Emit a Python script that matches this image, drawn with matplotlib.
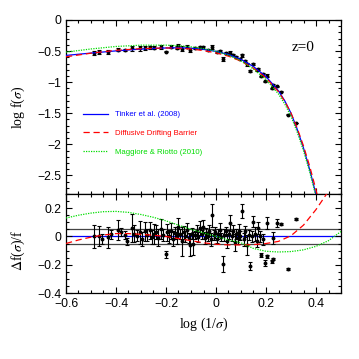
import matplotlib
matplotlib.use("Agg")
import matplotlib.pyplot as plt
from matplotlib.ticker import MultipleLocator, FixedLocator

plt.rcParams['font.family'] = ['Liberation Sans', 'DejaVu Sans']
plt.rcParams['mathtext.fontset'] = 'stix'

# ---- model curves, top panel (log f) ----
curve_x = [-0.6, -0.5, -0.4, -0.3, -0.2, -0.15, -0.1, -0.05, 0.0, 0.05, 0.1, 0.15,
           0.2, 0.25, 0.275, 0.3, 0.325, 0.35, 0.375, 0.4, 0.425]
tinker_logf = [-0.570, -0.532, -0.497, -0.468, -0.450, -0.447, -0.453, -0.472, -0.505,
               -0.555, -0.635, -0.750, -0.910, -1.140, -1.300, -1.500, -1.760, -2.060,
               -2.410, -2.810, -3.250]
ddb_logf = [-0.592, -0.534, -0.488, -0.461, -0.450, -0.454, -0.466, -0.492, -0.529,
            -0.582, -0.662, -0.776, -0.932, -1.155, -1.309, -1.498, -1.743, -2.027,
            -2.357, -2.734, -3.150]
mr_logf = [-0.517, -0.466, -0.426, -0.405, -0.405, -0.414, -0.432, -0.461, -0.505,
           -0.566, -0.655, -0.789, -0.958, -1.191, -1.351, -1.549, -1.807, -2.103,
           -2.448, -2.841, -3.270]

# ---- residual curves, bottom panel ----
res_x = [-0.6, -0.55, -0.5, -0.45, -0.4, -0.35, -0.3, -0.25, -0.2, -0.15, -0.1, -0.05,
         0.0, 0.05, 0.1, 0.15, 0.2, 0.25, 0.3, 0.35, 0.4, 0.45, 0.5]
ddb_res = [-0.050, -0.025, -0.005, 0.010, 0.020, 0.020, 0.015, 0.008, 0.000, -0.015,
           -0.030, -0.045, -0.055, -0.060, -0.060, -0.058, -0.050, -0.035, 0.005,
           0.080, 0.190, 0.320, 0.470]
mr_res = [0.130, 0.150, 0.165, 0.175, 0.177, 0.170, 0.155, 0.135, 0.110, 0.080, 0.050,
          0.025, 0.000, -0.025, -0.045, -0.085, -0.105, -0.110, -0.107, -0.095, -0.070,
          -0.030, 0.035]

# ---- simulation data, top panel ----
top_x = [-0.49, -0.468, -0.433, -0.392, -0.365, -0.338, -0.305, -0.285, -0.265, -0.25,
         -0.222, -0.2, -0.18, -0.158, -0.151, -0.137, -0.116, -0.104, -0.085, -0.064,
         -0.052, -0.034, -0.017, 0.002, 0.014, 0.027, 0.038, 0.05, 0.056, 0.068, 0.08,
         0.096, 0.103, 0.116, 0.123, 0.136, 0.149, 0.162, 0.169, 0.179, 0.187, 0.196,
         0.205, 0.223, 0.229, 0.243, 0.258, 0.289, 0.32]
top_y = [-0.530, -0.519, -0.511, -0.476, -0.482, -0.454, -0.457, -0.450, -0.441, -0.448,
         -0.433, -0.508, -0.432, -0.446, -0.418, -0.463, -0.432, -0.479, -0.455, -0.442,
         -0.442, -0.483, -0.433, -0.514, -0.497, -0.627, -0.528, -0.549, -0.526, -0.567,
         -0.594, -0.627, -0.570, -0.657, -0.715, -0.820, -0.705, -0.801, -0.785, -0.903,
         -0.877, -0.988, -0.894, -1.101, -1.048, -1.069, -1.154, -1.525, -1.657]
top_err = [0.035, 0.030, 0.032, 0.030, 0.012, 0.040, 0.034, 0.028, 0.026, 0.022,
           0.030, 0.012, 0.024, 0.026, 0.026, 0.040, 0.022, 0.034, 0.014, 0.022,
           0.020, 0.014, 0.034, 0.014, 0.022, 0.026, 0.016, 0.014, 0.026, 0.018,
           0.016, 0.014, 0.022, 0.018, 0.030, 0.014, 0.018, 0.020, 0.018, 0.008,
           0.018, 0.010, 0.018, 0.006, 0.018, 0.014, 0.006, 0.006, 0.006]

# ---- simulation data, bottom panel (residuals) ----
bot_x = [-0.490, -0.468, -0.455, -0.433, -0.420, -0.392, -0.380, -0.365, -0.357, -0.338,
         -0.330, -0.318, -0.305, -0.295, -0.285, -0.275, -0.265, -0.258, -0.250, -0.240,
         -0.232, -0.222, -0.214, -0.200, -0.196, -0.188, -0.180, -0.172, -0.165, -0.158,
         -0.151, -0.144, -0.137, -0.130, -0.123, -0.116, -0.110, -0.104, -0.098, -0.091,
         -0.085, -0.078, -0.071, -0.064, -0.058, -0.052, -0.046, -0.040, -0.034, -0.028,
         -0.022, -0.017, -0.010, -0.004, 0.002, 0.008, 0.014, 0.020, 0.027, 0.032,
         0.038, 0.044, 0.050, 0.056, 0.062, 0.068, 0.074, 0.080, 0.086, 0.090,
         0.096, 0.103, 0.110, 0.116, 0.123, 0.130, 0.136, 0.142, 0.149, 0.155,
         0.162, 0.169, 0.175, 0.179, 0.187, 0.196, 0.203, 0.205, 0.223, 0.227,
         0.229, 0.243, 0.258, 0.289, 0.320]
bot_y = [0.000, 0.005, -0.015, -0.005, 0.015, 0.045, 0.030, 0.010, -0.035, 0.060,
         0.020, 0.005, 0.030, -0.020, 0.035, 0.010, 0.045, -0.005, 0.020, 0.030,
         -0.010, 0.050, 0.010, -0.125, 0.030, 0.000, 0.040, -0.015, 0.025, 0.005,
         0.070, 0.015, -0.035, 0.030, 0.000, 0.045, -0.010, -0.060, 0.020, -0.050,
         0.010, 0.035, -0.005, 0.060, 0.015, 0.070, -0.010, 0.025, 0.000, 0.040,
         -0.020, 0.150, 0.010, 0.030, -0.015, 0.020, 0.045, -0.005, -0.195, 0.010,
         0.035, -0.030, 0.015, 0.095, 0.000, 0.040, -0.040, 0.020, -0.010, 0.035,
         0.005, 0.180, -0.020, 0.035, -0.060, 0.010, -0.210, 0.000, 0.105, 0.020,
         -0.030, 0.060, 0.000, -0.130, -0.020, -0.190, -0.140, 0.095, -0.177, -0.160,
         -0.010, 0.094, 0.088, -0.230, 0.125]
bot_err = [0.080, 0.070, 0.035, 0.075, 0.030, 0.070, 0.030, 0.025, 0.025, 0.100,
           0.060, 0.040, 0.080, 0.050, 0.065, 0.045, 0.060, 0.050, 0.070, 0.050,
           0.060, 0.070, 0.040, 0.025, 0.060, 0.045, 0.055, 0.050, 0.040, 0.060,
           0.060, 0.035, 0.100, 0.045, 0.040, 0.050, 0.035, 0.080, 0.040, 0.080,
           0.030, 0.045, 0.035, 0.050, 0.030, 0.045, 0.040, 0.035, 0.030, 0.040,
           0.045, 0.080, 0.035, 0.040, 0.030, 0.035, 0.050, 0.030, 0.060, 0.040,
           0.035, 0.050, 0.030, 0.060, 0.035, 0.040, 0.060, 0.035, 0.040, 0.050,
           0.030, 0.050, 0.045, 0.040, 0.070, 0.035, 0.030, 0.040, 0.040, 0.050,
           0.045, 0.040, 0.040, 0.012, 0.040, 0.020, 0.010, 0.040, 0.012, 0.010,
           0.040, 0.030, 0.010, 0.008, 0.008]

labels = ["Tinker et al. (2008)", "Diffusive Drifting Barrier", "Maggiore & Riotto (2010)"]
colors = ["#0000ff", "#ff0000", "#00dd00"]

fig = plt.figure(figsize=(3.59, 3.59), dpi=100)
ax1 = fig.add_axes([66/359, (359-194)/359, 275/359, 174/359])
ax2 = fig.add_axes([66/359, (359-293)/359, 275/359, 99/359])

lw = 0.9
# top panel
ax1.errorbar(top_x, top_y, yerr=top_err, fmt='o', ms=1.8, color='black', ecolor='black',
             elinewidth=0.8, capsize=1.3, capthick=0.8, zorder=2)
ax1.plot(curve_x, tinker_logf, color=colors[0], lw=lw, ls='-', label=labels[0], zorder=3)
ax1.plot(curve_x, ddb_logf, color=colors[1], lw=lw, ls=(0, (5, 3)), label=labels[1], zorder=3)
ax1.plot(curve_x, mr_logf, color=colors[2], lw=lw, ls=(0, (1, 1)), label=labels[2], zorder=3)
ax1.set_xlim(-0.6, 0.5)
ax1.set_ylim(-2.8, 0)
ax1.text(0.35, -0.44, "z=0", fontsize=11, family='Liberation Serif', ha='center', va='center')
leg = ax1.legend(loc='upper left', bbox_to_anchor=(0.06, 0.477), frameon=False, fontsize=5.6,
                 handlelength=3.3, handletextpad=0.9, labelspacing=1.45, borderpad=0,
                 borderaxespad=0)
for t, c in zip(leg.get_texts(), colors):
    t.set_color(c)

# bottom panel
ax2.axhline(0.05, color='#444444', lw=0.9, zorder=1)
ax2.axhline(-0.05, color='#444444', lw=0.9, zorder=1)
ax2.axhline(0.0, color=colors[0], lw=0.9, zorder=1)
ax2.errorbar(bot_x, bot_y, yerr=bot_err, fmt='o', ms=1.8, color='black', ecolor='black',
             elinewidth=0.8, capsize=1.3, capthick=0.8, zorder=2)
ax2.plot(res_x, ddb_res, color=colors[1], lw=lw, ls=(0, (5, 3)), zorder=3)
ax2.plot(res_x, mr_res, color=colors[2], lw=lw, ls=(0, (1, 1)), zorder=3)
ax2.set_xlim(-0.6, 0.5)
ax2.set_ylim(-0.4, 0.3)

for ax in (ax1, ax2):
    ax.xaxis.set_major_locator(MultipleLocator(0.2))
    ax.xaxis.set_minor_locator(MultipleLocator(0.05))
    ax.tick_params(which='both', direction='in', top=True, right=True, labelsize=8.8,
                   width=0.8)
    ax.tick_params(which='major', length=4.5)
    ax.tick_params(which='minor', length=2.3)
    for s in ax.spines.values():
        s.set_linewidth(0.9)

ax1.yaxis.set_major_locator(MultipleLocator(0.5))
ax1.yaxis.set_minor_locator(MultipleLocator(0.1))
ax1.tick_params(labelbottom=False)
ax1.set_yticks([0, -0.5, -1, -1.5, -2, -2.5])
ax1.set_yticklabels(['0', '\u22120.5', '\u22121', '\u22121.5', '\u22122', '\u22122.5'])
ax2.yaxis.set_major_locator(FixedLocator([-0.4, -0.2, 0, 0.2]))
ax2.yaxis.set_minor_locator(MultipleLocator(0.05))
ax2.set_yticklabels(['\u22120.4', '\u22120.2', '0', '0.2'])
ax2.set_xticks([-0.6, -0.4, -0.2, 0, 0.2, 0.4])
ax2.set_xticklabels(['\u22120.6', '\u22120.4', '\u22120.2', '0', '0.2', '0.4'])

ax1.set_ylabel(r'log f($\sigma$)', fontsize=10, family='Liberation Serif')
ax2.set_ylabel(r'$\Delta$f($\sigma$)/f', fontsize=10, family='Liberation Serif')
ax2.set_xlabel(r'log (1/$\sigma$)', fontsize=10, family='Liberation Serif', labelpad=4)
ax1.yaxis.set_label_coords(-0.142, 0.5)
ax2.yaxis.set_label_coords(-0.142, 0.43)

fig.savefig("out.png", dpi=100)
